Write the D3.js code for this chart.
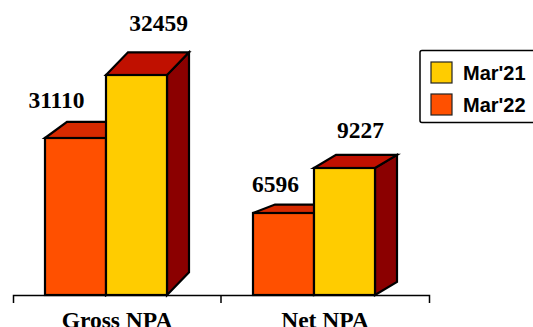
<!DOCTYPE html>
<html><head><meta charset="utf-8">
<script src="https://cdn.jsdelivr.net/npm/d3@7"></script>
<style>html,body{margin:0;padding:0;background:#fff}svg{display:block}</style>
</head><body><svg id="c" width="533" height="327"></svg>
<script>
const categories = ["Gross NPA", "Net NPA"];
const seriesNames = ["Mar'22", "Mar'21"];
const mar22 = [31110, 6596];
const mar21 = [32459, 9227];
const legendOrder = ["Mar'21", "Mar'22"];

// The source chart is not drawn to a linear scale, so the scale is piecewise
const y = d3.scaleLinear().domain([0, 6596, 9227, 31110, 32459]).range([295, 213, 168, 138, 75]);
const x0 = d3.scaleBand().domain(categories).range([13, 429]);
const x1 = d3.scaleBand().domain(seriesNames).range([32, 154]);
const faces = {
  "Mar'22": {front: "#ff5000", top: "#d62a00"},
  "Mar'21": {front: "#ffcc00", top: "#c01000"}
};
const sideColor = "#8b0000";
const depthX = 22;
const depthRatio = 0.103;
const labelShift = {
  "Gross NPA|Mar'22": [-19, -30], "Gross NPA|Mar'21": [22, -44],
  "Net NPA|Mar'22": [-8, -21], "Net NPA|Mar'21": [16, -30]
};

const svg = d3.select("#c");
const values = {"Mar'22": mar22, "Mar'21": mar21};
const rows = seriesNames.flatMap(s => categories.map((c, i) => ({c, s, v: values[s][i]})));

// axis
const axisG = svg.append("g").attr("transform", "translate(0,295)");
axisG.call(d3.axisBottom(x0).tickSize(0).tickSizeOuter(8).tickPadding(16));
axisG.select(".domain").attr("stroke", "#000").attr("stroke-width", 1.5);
axisG.selectAll(".tick text")
  .attr("font-family", "'Liberation Serif'").attr("font-size", 23.5).attr("font-weight", "bold").attr("fill", "#000");
axisG.append("line").attr("x1", x0("Net NPA")).attr("x2", x0("Net NPA"))
  .attr("y1", 0).attr("y2", 8).attr("stroke", "#000").attr("stroke-width", 1.5);

// bars
const bars = svg.append("g").attr("stroke", "#000").attr("stroke-width", 2.2).attr("stroke-linejoin", "miter");
const poly = pts => pts.map(p => p.join(",")).join(" ");
rows.forEach(d => {
  const l = x0(d.c) + x1(d.s), r = l + x1.bandwidth(), t = y(d.v), b = y(0);
  const dy = (b - t) * depthRatio;
  const g = bars.append("g");
  g.append("polygon").attr("points", poly([[r, t], [r + depthX, t - dy], [r + depthX, b - dy], [r, b]])).attr("fill", sideColor);
  g.append("polygon").attr("points", poly([[l, t], [l + depthX, t - dy], [r + depthX, t - dy], [r, t]])).attr("fill", faces[d.s].top);
  g.append("rect").attr("x", l).attr("y", t).attr("width", r - l).attr("height", b - t).attr("fill", faces[d.s].front);
});

// value labels
svg.append("g").selectAll("text").data(rows).join("text")
  .attr("x", d => x0(d.c) + x1(d.s) + x1.bandwidth() / 2 + labelShift[d.c + "|" + d.s][0])
  .attr("y", d => y(d.v) + labelShift[d.c + "|" + d.s][1])
  .attr("text-anchor", "middle")
  .attr("font-family", "'Liberation Serif'").attr("font-size", 23.5).attr("font-weight", "bold").attr("fill", "#000")
  .text(d => d.v);

// legend
const lg = svg.append("g");
lg.append("rect").attr("x", 420).attr("y", 50.5).attr("width", 125).attr("height", 72).attr("rx", 2)
  .attr("fill", "#fff").attr("stroke", "#000").attr("stroke-width", 1.5);
legendOrder.forEach((s, i) => {
  const top = 62 + i * 32;
  lg.append("rect").attr("x", 431).attr("y", top).attr("width", 21).attr("height", 21)
    .attr("fill", faces[s].front).attr("stroke", "#222").attr("stroke-width", 1.2);
  lg.append("text").attr("x", 463).attr("y", top + 18)
    .attr("font-family", "'Liberation Sans'").attr("font-size", 20).attr("font-weight", "bold").attr("fill", "#000")
    .text(s);
});
</script></body></html>
